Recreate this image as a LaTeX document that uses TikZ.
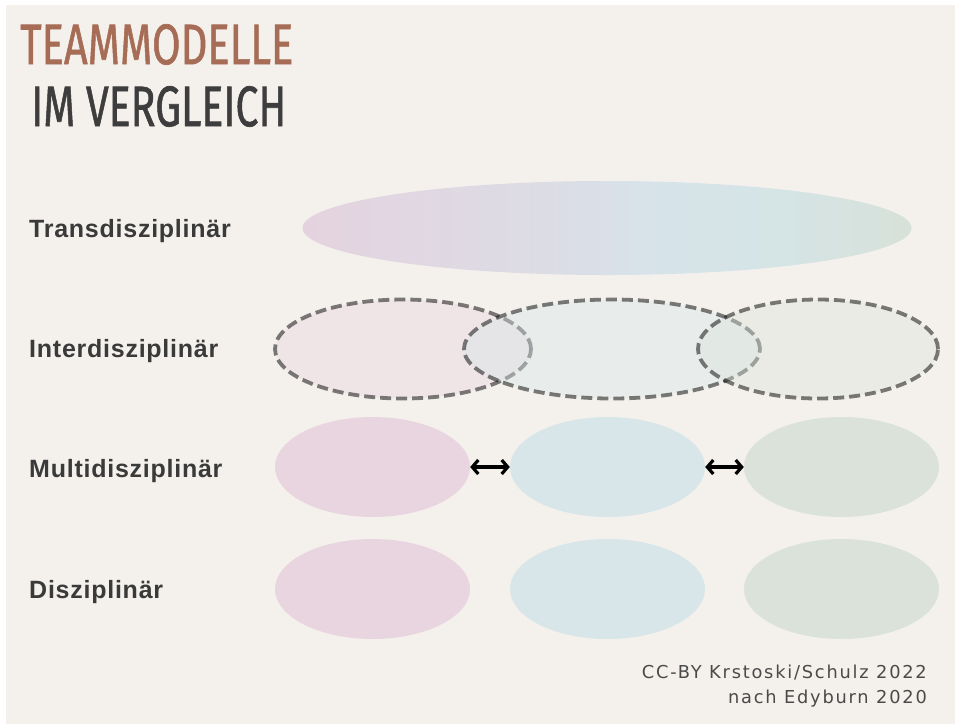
\documentclass[tikz,border=0pt]{standalone}
\usepackage{fontspec}
\usepackage{graphicx}
\usetikzlibrary{shapes.geometric,arrows.meta}
\setmainfont{Liberation Sans}
\newfontfamily\titlefont[FakeBold=1.2]{Fira Sans}
\newfontfamily\labelfont[LetterSpace=3]{Liberation Sans}
\newfontfamily\footfont[LetterSpace=10]{DejaVu Sans}
\definecolor{bg}{HTML}{F4F1EC}
\definecolor{rust}{HTML}{A66C55}
\definecolor{titledark}{HTML}{3D3D3D}
\definecolor{labeldark}{HTML}{3A3A3A}
\definecolor{footgrey}{HTML}{4A4A4A}
\definecolor{pinkE}{HTML}{E8D5E0}
\definecolor{blueE}{HTML}{D8E6EA}
\definecolor{greenE}{HTML}{DAE2D9}
\definecolor{transL}{HTML}{E4D3DF}
\definecolor{transA}{HTML}{DCDCE5}
\definecolor{transM}{HTML}{D6E4EA}
\definecolor{transB}{HTML}{D5E4E4}
\definecolor{transR}{HTML}{D7E1D9}
\pgfdeclarehorizontalshading{transshade}{100bp}{color(0bp)=(transL); color(25bp)=(transL);
  color(45bp)=(transA); color(55bp)=(transM); color(65bp)=(transB); color(75bp)=(transR); color(100bp)=(transR)}
\tikzset{
  rowlabel/.style={anchor=base west, inner sep=0pt, text=labeldark,
    font=\labelfont\bfseries\fontsize{25}{30}\selectfont},
  blob/.style={ellipse, inner sep=0pt, minimum width=195pt, minimum height=100pt},
  dashblob/.style={ellipse, inner sep=0pt, minimum height=99pt, fill opacity=0.4,
    draw=black, draw opacity=0.5, line width=3.8pt, dash pattern=on 11pt off 5pt},
  twoway/.style={line width=3.2pt, {Straight Barb[length=6pt,width=14pt]}-{Straight Barb[length=6pt,width=14pt]}},
  foot/.style={anchor=base east, inner sep=0pt, text=footgrey,
    font=\footfont\fontsize{17.8}{20}\selectfont}
}
\begin{document}
\begin{tikzpicture}[x=1pt,y=-1pt]
\useasboundingbox (0,0) rectangle (955,724);
\fill[white] (0,0) rectangle (955,724);
\fill[bg] (6,5) rectangle (955,724);
% title
\node[anchor=south west, inner sep=0pt, text=rust] (t1) at (20,65)
  {\resizebox{273pt}{40pt}{\titlefont TEAMMODELLE}};
\node[anchor=south west, inner sep=0pt, text=titledark] (t2) at (31,127)
  {\resizebox{255pt}{40pt}{\titlefont IM VERGLEICH}};
% row labels
\node[rowlabel] (lt) at (29,237) {Transdisziplinär};
\node[rowlabel] (li) at (29,357) {Interdisziplinär};
\node[rowlabel] (lm) at (29,477) {Multidisziplinär};
\node[rowlabel] (ld) at (29,598) {Disziplinär};
% transdisciplinary
\node[ellipse, inner sep=0pt, minimum width=609pt, minimum height=94pt,
  shading=transshade] (te) at (607,228) {};
% interdisciplinary
\node[dashblob, minimum width=256pt, fill=pinkE] (i1) at (403,349) {};
\node[dashblob, minimum width=296pt, fill=blueE] (i2) at (612,349) {};
\node[dashblob, minimum width=240pt, fill=greenE] (i3) at (818,349) {};
% multidisciplinary
\node[blob, fill=pinkE] (m1) at (372.5,467) {};
\node[blob, fill=blueE] (m2) at (607.5,467) {};
\node[blob, fill=greenE] (m3) at (841.5,467) {};
\draw[twoway] (m1.east) -- (m2.west);
\draw[twoway] (m2.east) -- (m3.west);
% disciplinary
\node[blob, fill=pinkE] (d1) at (372.5,589) {};
\node[blob, fill=blueE] (d2) at (607.5,589) {};
\node[blob, fill=greenE] (d3) at (841.5,589) {};
% footer
\node[foot] (f1) at (927,678) {CC-BY Krstoski/Schulz 2022};
\node[foot] (f2) at (927,703) {nach Edyburn 2020};
\end{tikzpicture}
\end{document}
